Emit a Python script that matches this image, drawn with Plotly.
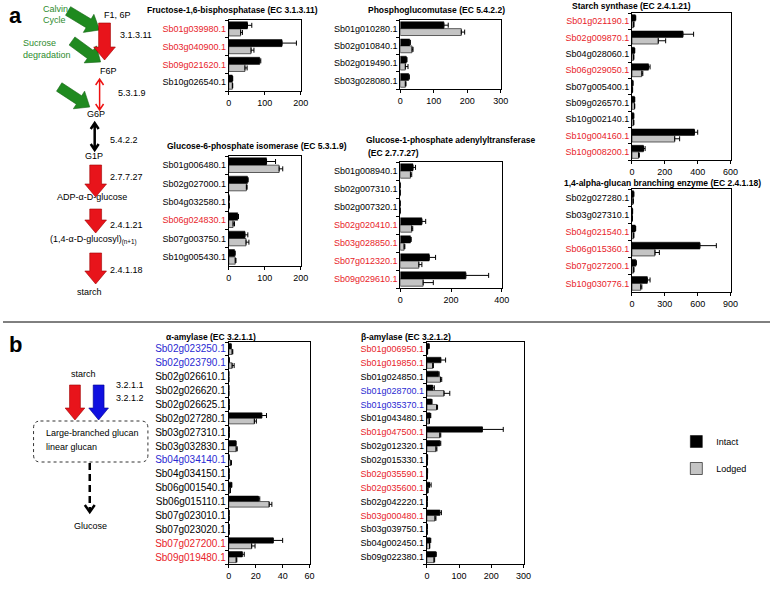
import math
import plotly.graph_objects as go

W, H = 778, 589
FONT = "Liberation Sans, Arial, sans-serif"
RED = "#e8232a"
BLUE = "#2a2ad2"
GREEN = "#2e8b2e"
GRAY = "#c4c4c4"
COLMAP = {"r": RED, "b": BLUE, "k": "#000000"}

# ---------------- data ----------------
FBP_GENES = ["Sb01g039980.1", "Sb03g040900.1", "Sb09g021620.1", "Sb10g026540.1"]
FBP_COLORS = ["r", "r", "r", "k"]
FBP_INTACT = [52, 148, 86, 10]
FBP_INTACT_ERR = [12, 40, 3, 1]
FBP_LODGED = [33, 62, 45, 10]
FBP_LODGED_ERR = [5, 8, 6, 1]

PGM_GENES = ["Sb01g010280.1", "Sb02g010840.1", "Sb02g019490.1", "Sb03g028080.1"]
PGM_COLORS = ["k", "k", "k", "k"]
PGM_INTACT = [130, 28, 18, 25]
PGM_INTACT_ERR = [13, 2, 2, 2]
PGM_LODGED = [182, 35, 15, 15]
PGM_LODGED_ERR = [10, 3, 8, 2]

SS_GENES = ["Sb01g021190.1", "Sb02g009870.1", "Sb04g028060.1", "Sb06g029050.1",
            "Sb07g005400.1", "Sb09g026570.1", "Sb10g002140.1", "Sb10g004160.1",
            "Sb10g008200.1"]
SS_COLORS = ["r", "r", "k", "r", "k", "k", "k", "r", "r"]
SS_INTACT = [20, 310, 15, 100, 5, 15, 10, 380, 70]
SS_INTACT_ERR = [3, 65, 2, 10, 1, 2, 1, 20, 10]
SS_LODGED = [10, 160, 10, 60, 3, 15, 10, 260, 40]
SS_LODGED_ERR = [2, 45, 1, 6, 1, 2, 1, 30, 5]

GPI_GENES = ["Sb01g006480.1", "Sb02g027000.1", "Sb04g032580.1", "Sb06g024830.1",
             "Sb07g003750.1", "Sb10g005430.1"]
GPI_COLORS = ["k", "k", "k", "r", "k", "k"]
GPI_INTACT = [105, 52, 1, 25, 45, 16]
GPI_INTACT_ERR = [25, 2, 0, 2, 8, 2]
GPI_LODGED = [140, 49, 1, 12, 48, 18]
GPI_LODGED_ERR = [10, 2, 0, 4, 8, 2]

AGP_GENES = ["Sb01g008940.1", "Sb02g007310.1", "Sb02g007320.1", "Sb02g020410.1",
             "Sb03g028850.1", "Sb07g012320.1", "Sb09g029610.1"]
AGP_COLORS = ["k", "k", "k", "r", "r", "r", "r"]
AGP_INTACT = [50, 0, 0, 85, 40, 114, 258]
AGP_INTACT_ERR = [10, 0, 0, 15, 3, 25, 90]
AGP_LODGED = [40, 0, 0, 45, 15, 73, 90]
AGP_LODGED_ERR = [5, 0, 0, 4, 3, 12, 40]

SBE_GENES = ["Sb02g027280.1", "Sb03g027310.1", "Sb04g021540.1", "Sb06g015360.1",
             "Sb07g027200.1", "Sb10g030776.1"]
SBE_COLORS = ["k", "k", "r", "r", "r", "r"]
SBE_INTACT = [15, 5, 30, 620, 35, 140]
SBE_INTACT_ERR = [2, 1, 4, 150, 5, 25]
SBE_LODGED = [10, 3, 15, 210, 15, 80]
SBE_LODGED_ERR = [2, 1, 2, 40, 3, 10]

AAMY_GENES = ["Sb02g023250.1", "Sb02g023790.1", "Sb02g026610.1", "Sb02g026620.1",
              "Sb02g026625.1", "Sb02g027280.1", "Sb03g027310.1", "Sb03g032830.1",
              "Sb04g034140.1", "Sb04g034150.1", "Sb06g001540.1", "Sb06g015110.1",
              "Sb07g023010.1", "Sb07g023020.1", "Sb07g027200.1", "Sb09g019480.1"]
AAMY_COLORS = ["b", "b", "k", "k", "k", "k", "k", "k", "b", "k", "k", "k", "k", "k", "r", "r"]
AAMY_INTACT = [1.5, 0.3, 0, 0, 0.2, 24.5, 0.3, 5, 0.2, 0.2, 2, 22, 0.2, 0.2, 33, 10]
AAMY_INTACT_ERR = [0.3, 0, 0, 0, 0, 3.5, 0, 0.5, 0, 0, 0.3, 1, 0, 0, 7, 1.5]
AAMY_LODGED = [2.5, 2.5, 0, 0, 0.3, 19, 0.3, 5.5, 1.5, 0.2, 1, 30, 0.2, 0.2, 17, 5.5]
AAMY_LODGED_ERR = [0.5, 1.5, 0, 0, 0, 1.5, 0, 0.8, 0.5, 0, 0.2, 2, 0, 0, 2.5, 0.5]

BAMY_GENES = ["Sb01g006950.1", "Sb01g019850.1", "Sb01g024850.1", "Sb01g028700.1",
              "Sb01g035370.1", "Sb01g043480.1", "Sb01g047500.1", "Sb02g012320.1",
              "Sb02g015330.1", "Sb02g035590.1", "Sb02g035600.1", "Sb02g042220.1",
              "Sb03g000480.1", "Sb03g039750.1", "Sb04g002450.1", "Sb09g022380.1"]
BAMY_COLORS = ["r", "r", "k", "b", "b", "k", "r", "k", "k", "r", "r", "k", "r", "k", "k", "k"]
BAMY_INTACT = [6, 43, 35, 18, 14, 10, 172, 40, 2, 2, 8, 1, 40, 1, 10, 27]
BAMY_INTACT_ERR = [1, 15, 3, 5, 2, 2, 65, 3, 0, 0, 5, 0, 5, 0, 2, 2]
BAMY_LODGED = [2, 18, 42, 53, 30, 7, 40, 28, 1, 1, 3, 0.5, 25, 0.5, 8, 22]
BAMY_LODGED_ERR = [0, 2, 4, 18, 3, 1, 3, 3, 0, 0, 0, 0, 3, 0, 1, 2]

SERIES_NAMES = ["Intact", "Lodged"]


def fx(x):
    return x / W


def fy(y):
    return 1 - y / H


fig = go.Figure()
layout_axes = {}


def add_panel(i, genes, colors, intact, ierr, lodged, lerr, box, xmax, xticks,
              legend=False, label_size=9):
    x0, y0, x1, y1 = box
    xa = "x" if i == 1 else f"x{i}"
    ya = "y" if i == 1 else f"y{i}"
    n = len(genes)
    fig.add_trace(go.Bar(
        y=genes, x=intact, orientation="h", xaxis=xa, yaxis=ya,
        name=SERIES_NAMES[0], legendgroup="a", showlegend=legend,
        marker=dict(color="#000000", line=dict(color="#000000", width=0.5)),
        error_x=dict(type="data", array=ierr, arrayminus=[0] * n, symmetric=False,
                     color="#000000", thickness=1, width=2.5)))
    fig.add_trace(go.Bar(
        y=genes, x=lodged, orientation="h", xaxis=xa, yaxis=ya,
        name=SERIES_NAMES[1], legendgroup="b", showlegend=legend,
        marker=dict(color=GRAY, line=dict(color="#000000", width=0.6)),
        error_x=dict(type="data", array=lerr, arrayminus=[0] * n, symmetric=False,
                     color="#000000", thickness=1, width=2.5)))
    key = "" if i == 1 else str(i)
    layout_axes["xaxis" + key] = dict(
        domain=[fx(x0), fx(x1)], anchor=ya, range=[0, xmax], tickvals=xticks,
        showline=True, mirror=True, linecolor="#000000", linewidth=1,
        ticks="outside", ticklen=3, tickcolor="#000000", showgrid=False, zeroline=False,
        tickfont=dict(size=9, color="#000000", family=FONT), fixedrange=True)
    layout_axes["yaxis" + key] = dict(
        domain=[fy(y1), fy(y0)], anchor=xa, type="category",
        categoryorder="array", categoryarray=genes, autorange="reversed",
        tickvals=genes,
        ticktext=[f'<span style="color:{COLMAP[c]}">{g}</span>' for g, c in zip(genes, colors)],
        showline=True, mirror=True, linecolor="#000000", linewidth=1,
        ticks="outside", ticklen=3, tickson="boundaries", tickcolor="#000000",
        showgrid=False, zeroline=False,
        tickfont=dict(size=label_size, color="#000000", family=FONT), fixedrange=True)


add_panel(1, FBP_GENES, FBP_COLORS, FBP_INTACT, FBP_INTACT_ERR, FBP_LODGED, FBP_LODGED_ERR,
          (229, 20, 302, 91), 200, [0, 100, 200], legend=True)
add_panel(2, PGM_GENES, PGM_COLORS, PGM_INTACT, PGM_INTACT_ERR, PGM_LODGED, PGM_LODGED_ERR,
          (403, 20, 505, 89), 300, [0, 100, 200, 300])
add_panel(3, SS_GENES, SS_COLORS, SS_INTACT, SS_INTACT_ERR, SS_LODGED, SS_LODGED_ERR,
          (638, 13, 738, 160), 600, [0, 200, 400, 600])
add_panel(4, GPI_GENES, GPI_COLORS, GPI_INTACT, GPI_INTACT_ERR, GPI_LODGED, GPI_LODGED_ERR,
          (229, 156, 302, 266), 200, [0, 100, 200])
add_panel(5, AGP_GENES, AGP_COLORS, AGP_INTACT, AGP_INTACT_ERR, AGP_LODGED, AGP_LODGED_ERR,
          (403, 162, 506, 288), 400, [0, 200, 400])
add_panel(6, SBE_GENES, SBE_COLORS, SBE_INTACT, SBE_INTACT_ERR, SBE_LODGED, SBE_LODGED_ERR,
          (638, 189, 738, 292), 900, [0, 300, 600, 900])
add_panel(7, AAMY_GENES, AAMY_COLORS, AAMY_INTACT, AAMY_INTACT_ERR, AAMY_LODGED, AAMY_LODGED_ERR,
          (229, 342, 311, 564), 60, [0, 20, 40, 60], label_size=10)
add_panel(8, BAMY_GENES, BAMY_COLORS, BAMY_INTACT, BAMY_INTACT_ERR, BAMY_LODGED, BAMY_LODGED_ERR,
          (430, 342, 528, 564), 300, [0, 100, 200, 300])

annotations = []


def text(x, y, s, size=9, color="#000000", anchor="center", bold=False):
    if bold:
        s = f"<b>{s}</b>"
    annotations.append(dict(x=fx(x), y=fy(y), xref="paper", yref="paper", text=s,
                            showarrow=False, xanchor=anchor, yanchor="middle",
                            font=dict(size=size, color=color, family=FONT)))


TS = 8.5
# panel titles
text(233, 10, "Fructose-1,6-bisphosphatase (EC 3.1.3.11)", size=TS, bold=True)
text(440, 10, "Phosphoglucomutase (EC 5.4.2.2)", size=TS, bold=True)
text(575, 6, "Starch synthase (EC 2.4.1.21)", size=TS, bold=True, anchor="left")
text(258, 146, "Glucose-6-phosphate isomerase (EC 5.3.1.9)", size=TS, bold=True)
text(366, 140, "Glucose-1-phosphate adenylyltransferase", size=TS, bold=True, anchor="left")
text(368, 153, "(EC 2.7.7.27)", size=TS, bold=True, anchor="left")
text(567, 183, "1,4-alpha-glucan branching enzyme (EC 2.4.1.18)", size=TS, bold=True, anchor="left")
text(163, 337, "α-amylase (EC 3.2.1.1)", size=TS, bold=True, anchor="left")
text(361, 337, "β-amylase (EC 3.2.1.2)", size=TS, bold=True, anchor="left")

# panel letters
text(4, 15, "a", size=22, bold=True, anchor="left")
text(4, 344, "b", size=22, bold=True, anchor="left")

# pathway a texts
text(39, 9, "Calvin", color=GREEN, anchor="left")
text(39, 20, "Cycle", color=GREEN, anchor="left")
text(18, 43, "Sucrose", color=GREEN, anchor="left")
text(18, 55, "degradation", color=GREEN, anchor="left")
text(116, 15, "F1, 6P")
text(107, 71, "F6P")
text(94, 114, "G6P")
text(92, 156, "G1P")
text(90, 197, "ADP-α-D-glucose")
text(92, 240, "(1,4-α-D-glucosyl)<sub>(n+1)</sub>")
text(88, 292, "starch")
text(117, 35, "3.1.3.11", anchor="left")
text(115, 93, "5.3.1.9", anchor="left")
text(106, 140, "5.4.2.2", anchor="left")
text(106, 177, "2.7.7.27", anchor="left")
text(106, 225, "2.4.1.21", anchor="left")
text(107, 270, "2.4.1.18", anchor="left")

# pathway b texts
text(82, 374, "starch")
text(113, 385, "3.2.1.1", anchor="left")
text(113, 398, "3.2.1.2", anchor="left")
text(42, 433, "Large-branched glucan", anchor="left")
text(42, 447, "linear glucan", anchor="left")
text(89, 526, "Glucose")

shapes = []


def pts_path(pts, close=True):
    s = "M " + " L ".join(f"{fx(px):.5f},{fy(py):.5f}" for px, py in pts)
    return s + (" Z" if close else "")


def block_arrow(x0, y0, x1, y1, shaft, head, hlen, color, edge):
    dx, dy = x1 - x0, y1 - y0
    L = math.hypot(dx, dy)
    ux, uy = dx / L, dy / L
    nx, ny = -uy, ux
    bx, by = x1 - ux * hlen, y1 - uy * hlen
    pts = [(x0 + nx * shaft / 2, y0 + ny * shaft / 2), (bx + nx * shaft / 2, by + ny * shaft / 2),
           (bx + nx * head / 2, by + ny * head / 2), (x1, y1),
           (bx - nx * head / 2, by - ny * head / 2), (bx - nx * shaft / 2, by - ny * shaft / 2),
           (x0 - nx * shaft / 2, y0 - ny * shaft / 2)]
    shapes.append(dict(type="path", path=pts_path(pts), xref="paper", yref="paper",
                       fillcolor=color, line=dict(color=edge, width=0.6), layer="above"))


def double_arrow(x, y0, y1, color, width, hw=4, hl=6):
    p = (f"M {fx(x)},{fy(y0)} L {fx(x)},{fy(y1)} "
         f"M {fx(x - hw)},{fy(y0 + hl)} L {fx(x)},{fy(y0)} L {fx(x + hw)},{fy(y0 + hl)} "
         f"M {fx(x - hw)},{fy(y1 - hl)} L {fx(x)},{fy(y1)} L {fx(x + hw)},{fy(y1 - hl)}")
    shapes.append(dict(type="path", path=p, xref="paper", yref="paper",
                       fillcolor="rgba(0,0,0,0)", line=dict(color=color, width=width)))


# green input arrows
block_arrow(66, 11, 98, 30, 10, 21, 13, "#1f8a1f", "#176617")
block_arrow(70, 41, 99, 62, 10, 21, 13, "#1f8a1f", "#176617")
block_arrow(57, 87, 88, 107, 10, 21, 13, "#1f8a1f", "#176617")
# red pathway arrows
block_arrow(103, 23, 103, 60, 12, 22, 13, "#e8141b", "#a00000")
for (ya, yb) in [(165, 197), (209, 233), (253, 284)]:
    block_arrow(94, ya, 94, yb, 12, 22, 13, "#e8141b", "#a00000")
double_arrow(98, 79, 110, "#ee1111", 1.5)
double_arrow(93, 123, 150, "#000000", 2.5)

# panel b arrows
block_arrow(73, 385, 73, 420, 11, 20, 12, "#e8141b", "#a00000")
block_arrow(97, 385, 97, 420, 11, 20, 12, "#1010e0", "#00008a")
shapes.append(dict(type="line", xref="paper", yref="paper", x0=fx(88), y0=fy(463), x1=fx(88), y1=fy(511),
                   line=dict(color="#000000", width=2.5, dash="7px,4px")))
shapes.append(dict(type="path", xref="paper", yref="paper",
                   path=f"M {fx(83)},{fy(505)} L {fx(88)},{fy(512)} L {fx(93)},{fy(505)}",
                   fillcolor="rgba(0,0,0,0)", line=dict(color="#000000", width=2.5)))
# rounded dotted box
bx0, by0, bx1, by1, r = 31, 421, 147, 462, 7
rp = (f"M {fx(bx0 + r)},{fy(by0)} L {fx(bx1 - r)},{fy(by0)} Q {fx(bx1)},{fy(by0)} {fx(bx1)},{fy(by0 + r)} "
      f"L {fx(bx1)},{fy(by1 - r)} Q {fx(bx1)},{fy(by1)} {fx(bx1 - r)},{fy(by1)} "
      f"L {fx(bx0 + r)},{fy(by1)} Q {fx(bx0)},{fy(by1)} {fx(bx0)},{fy(by1 - r)} "
      f"L {fx(bx0)},{fy(by0 + r)} Q {fx(bx0)},{fy(by0)} {fx(bx0 + r)},{fy(by0)} Z")
shapes.append(dict(type="path", path=rp, xref="paper", yref="paper",
                   fillcolor="rgba(0,0,0,0)", line=dict(color="#333333", width=1, dash="dot")))

# separator line
shapes.append(dict(type="line", xref="paper", yref="paper", x0=0, x1=1, y0=fy(322), y1=fy(322),
                   line=dict(color="#000000", width=1)))

fig.update_layout(
    width=W, height=H, margin=dict(l=0, r=0, t=0, b=0),
    paper_bgcolor="#ffffff", plot_bgcolor="#ffffff",
    font=dict(family=FONT, size=9, color="#000000"),
    barmode="group", bargap=0.2, bargroupgap=0.0,
    legend=dict(x=fx(683), y=fy(427), xanchor="left", yanchor="top",
                font=dict(size=9, family=FONT), tracegroupgap=8,
                bgcolor="rgba(0,0,0,0)", itemclick=False, itemdoubleclick=False),
    annotations=annotations, shapes=shapes,
    **layout_axes,
)

fig.write_html("out.html", config={"displayModeBar": False},
               post_script="document.body.style.margin='0px';document.body.style.overflow='hidden';")
